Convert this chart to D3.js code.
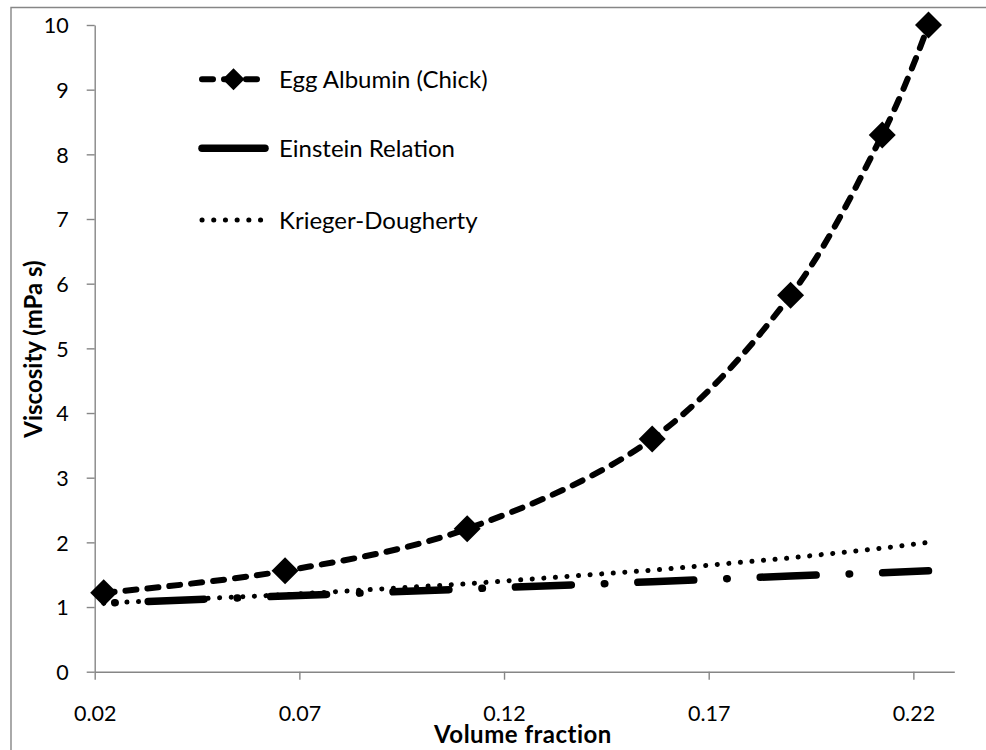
<!DOCTYPE html>
<html>
<head>
<meta charset="utf-8">
<script src="https://cdn.jsdelivr.net/npm/d3@7"></script>
<style>
  html, body { margin: 0; padding: 0; background: #fff; }
  svg { display: block; }
  text { font-family: Lato, "Noto Sans", sans-serif; fill: #000; }
</style>
</head>
<body>
<svg id="chart" width="986" height="750"></svg>
<script>
// Volume fraction of protein
const volumeFraction = [0.0222, 0.0665, 0.111, 0.1562, 0.19, 0.2124, 0.2237];
// Measured viscosity, egg albumin (chick), mPa s
const eggAlbumin = [1.22, 1.56, 2.21, 3.60, 5.82, 8.30, 10.0];
// Einstein relation prediction
const einstein = [1.06, 1.17, 1.28, 1.39, 1.48, 1.53, 1.56];
// Krieger-Dougherty prediction
const kriegerDougherty = [1.06, 1.19, 1.36, 1.57, 1.76, 1.91, 2.00];

const xTicks = [0.02, 0.07, 0.12, 0.17, 0.22];
const yTicks = [0, 1, 2, 3, 4, 5, 6, 7, 8, 9, 10];
const seriesNames = ["Egg Albumin (Chick)", "Einstein Relation", "Krieger-Dougherty"];

const svg = d3.select("#chart");
const axisColor = "#868686";

const x = d3.scaleLinear().domain([0.02, 0.23]).range([94.7, 954.3]);
const y = d3.scaleLinear().domain([0, 10]).range([671.7, 25]);

// chart-area frame (left and top edges fall inside the page)
svg.append("path")
  .attr("d", "M11,750 L11,7.5 L986,7.5")
  .attr("fill", "none").attr("stroke", axisColor).attr("stroke-width", 1.4);

// axes
const xAxis = svg.append("g").attr("transform", `translate(0,${y(0)})`)
  .call(d3.axisBottom(x).tickValues(xTicks).tickFormat(d3.format(".2f"))
        .tickSizeOuter(0).tickSizeInner(8).tickPadding(26));
const yAxis = svg.append("g").attr("transform", `translate(${x(0.02)},0)`)
  .call(d3.axisLeft(y).tickValues(yTicks).tickFormat(d3.format("d"))
        .tickSizeOuter(0).tickSizeInner(8).tickPadding(18));
[xAxis, yAxis].forEach(g => {
  g.select(".domain").attr("stroke", axisColor).attr("stroke-width", 1.4);
  g.selectAll(".tick line").attr("stroke", axisColor).attr("stroke-width", 1.4);
  g.selectAll(".tick text").attr("font-size", 21.5).attr("font-family", "Lato, sans-serif").attr("fill", "#000");
});
yAxis.selectAll(".tick text").attr("dy", "0.36em");
xAxis.selectAll(".tick text").attr("dy", "0.72em");

// axis titles
svg.append("text").attr("x", 523).attr("y", 742.5)
  .attr("text-anchor", "middle").attr("font-size", 24).attr("font-weight", "bold")
  .attr("letter-spacing", 0.5)
  .text("Volume fraction");
svg.append("text").attr("transform", "translate(41.5,349) rotate(-90)")
  .attr("text-anchor", "middle").attr("font-size", 24).attr("font-weight", "bold")
  .text("Viscosity (mPa s)");

const pts = vals => volumeFraction.map((v, i) => [x(v), y(vals[i])]);

// Krieger-Dougherty: round dots
svg.append("path")
  .attr("d", d3.line()(pts(kriegerDougherty)))
  .attr("fill", "none").attr("stroke", "#000").attr("stroke-width", 5)
  .attr("stroke-linecap", "round").attr("stroke-dasharray", "0.1,11.5");

// Einstein relation: long dash - dot
svg.append("path")
  .attr("d", d3.line()(pts(einstein)))
  .attr("fill", "none").attr("stroke", "#000").attr("stroke-width", 7.5)
  .attr("stroke-linecap", "round").attr("stroke-dasharray", "56,33,0.5,33")
  .attr("stroke-dashoffset", 78);

// Egg albumin: smoothed dashed line with diamond markers
svg.append("path")
  .attr("d", d3.line().curve(d3.curveCatmullRom.alpha(0))(pts(eggAlbumin)))
  .attr("fill", "none").attr("stroke", "#000").attr("stroke-width", 6)
  .attr("stroke-linecap", "round").attr("stroke-dasharray", "11,11");

const diamond = r => `M0,${-r}L${r},0L0,${r}L${-r},0Z`;
svg.append("g").selectAll("path")
  .data(pts(eggAlbumin)).join("path")
  .attr("transform", d => `translate(${d[0]},${d[1]})`)
  .attr("d", diamond(13.5)).attr("fill", "#000");

// legend
const legend = svg.append("g");
const legendY = [79.3, 148.3, 220];
const lx0 = 202, lx1 = 265;
legend.append("path").attr("d", `M${lx0},${legendY[0]}L${lx1},${legendY[0]}`)
  .attr("stroke", "#000").attr("stroke-width", 6).attr("stroke-linecap", "round")
  .attr("stroke-dasharray", "11,11").attr("stroke-dashoffset", 0);
legend.append("path").attr("transform", `translate(${(lx0 + lx1) / 2},${legendY[0]})`)
  .attr("d", diamond(11)).attr("fill", "#000");
legend.append("path").attr("d", `M${lx0},${legendY[1]}L${lx1},${legendY[1]}`)
  .attr("stroke", "#000").attr("stroke-width", 7.5).attr("stroke-linecap", "round");
legend.append("path").attr("d", `M${lx0},${legendY[2]}L${lx1},${legendY[2]}`)
  .attr("stroke", "#000").attr("stroke-width", 5).attr("stroke-linecap", "round")
  .attr("stroke-dasharray", "0.1,11.6");
legend.selectAll("text").data(seriesNames).join("text")
  .attr("x", 279).attr("y", (d, i) => legendY[i]).attr("dy", "0.36em")
  .attr("font-size", 24).text(d => d);
</script>
</body>
</html>
